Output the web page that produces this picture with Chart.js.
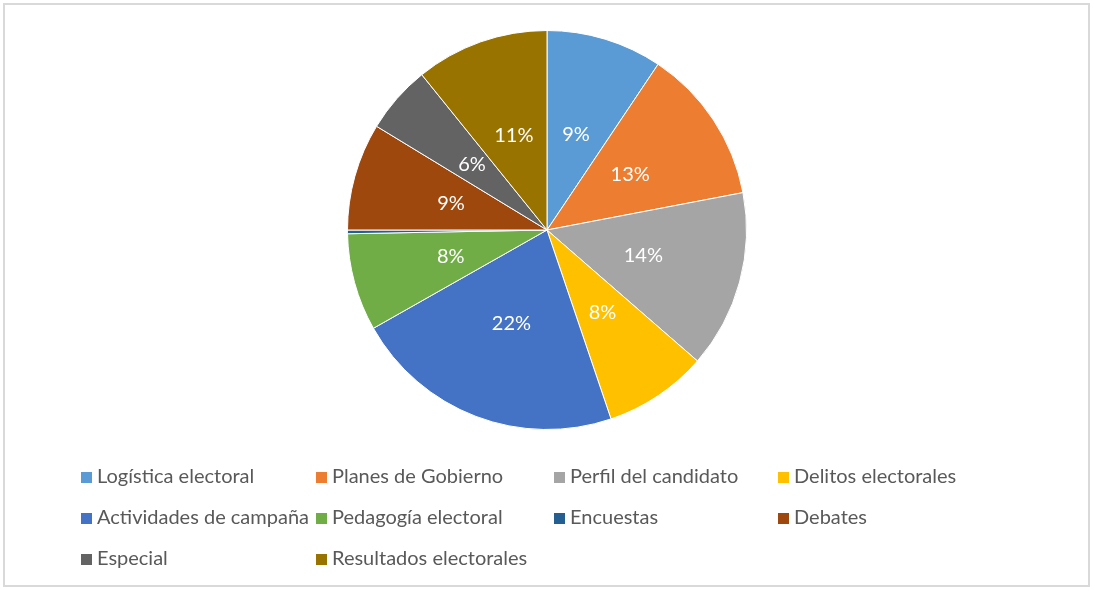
<!DOCTYPE html>
<html>
<head>
<meta charset="utf-8">
<script src="https://cdn.jsdelivr.net/npm/chart.js@4/dist/chart.umd.min.js"></script>
<style>
  html, body { margin: 0; padding: 0; background: #fff; }
  #frame {
    position: absolute; left: 3px; top: 3px; width: 1083px; height: 580px;
    border: 2px solid #d9d9d9; box-sizing: content-box;
  }
  #wrap { position: absolute; left: 0; top: 0; width: 1094px; height: 590px; }
  #legend {
    position: absolute; left: 81px; top: 462px; width: 1000px;
    font-family: "Lato", sans-serif; font-size: 20px; color: #595959;
  }
  .item { position: absolute; white-space: nowrap; line-height: 26px; }
  .box {
    display: inline-block; width: 11px; height: 11px; margin-right: 5px;
    vertical-align: 0px;
  }
</style>
</head>
<body>
<div id="frame"></div>
<div id="wrap"><canvas id="pie" width="1094" height="590"></canvas></div>
<div id="legend"></div>
<script>
// Categories and values (share of coverage, %)
const categories = [
  "Logística electoral",
  "Planes de Gobierno",
  "Perfil del candidato",
  "Delitos electorales",
  "Actividades de campaña",
  "Pedagogía electoral",
  "Encuestas",
  "Debates",
  "Especial",
  "Resultados electorales",
];
const shares = [9.4, 12.6, 14.4, 8.4, 22.0, 7.9, 0.3, 8.7, 5.5, 10.8];
const colors = [
  "#5B9BD5", "#ED7D31", "#A5A5A5", "#FFC000", "#4472C4",
  "#70AD47", "#255E91", "#9E480E", "#636363", "#997300",
];

// Legend grid: 4 columns
const legendCols = [0, 235, 473, 697];
const legendRowStep = 41;

// Draw percentage labels at the middle of each slice
const sliceLabels = {
  id: "sliceLabels",
  afterDatasetsDraw(chart) {
    const ctx = chart.ctx;
    const meta = chart.getDatasetMeta(0);
    const total = shares.reduce((a, b) => a + b, 0);
    ctx.save();
    ctx.font = '20px "Lato", sans-serif';
    ctx.fillStyle = "#ffffff";
    ctx.textAlign = "center";
    ctx.textBaseline = "middle";
    meta.data.forEach((arc, i) => {
      const pct = Math.round((shares[i] / total) * 100);
      if (pct < 1) return;
      const mid = (arc.startAngle + arc.endAngle) / 2;
      const r = arc.outerRadius * 0.5;
      ctx.fillText(pct + "%", arc.x + Math.cos(mid) * r, arc.y + Math.sin(mid) * r);
    });
    ctx.restore();
  },
};

const buildLegend = () => {
  const legend = document.getElementById("legend");
  categories.forEach((name, i) => {
    const item = document.createElement("div");
    item.className = "item";
    item.style.left = legendCols[i % 4] + "px";
    item.style.top = Math.floor(i / 4) * legendRowStep + "px";
    const box = document.createElement("span");
    box.className = "box";
    box.style.background = colors[i];
    item.appendChild(box);
    item.appendChild(document.createTextNode(name));
    legend.appendChild(item);
  });
};

document.addEventListener("DOMContentLoaded", () => {
  const ctx = document.getElementById("pie").getContext("2d");
  new Chart(ctx, {
    type: "pie",
    data: {
      labels: categories,
      datasets: [{
        data: shares,
        backgroundColor: colors,
        borderColor: "#ffffff",
        borderWidth: 1,
      }],
    },
    options: {
      responsive: false,
      animation: false,
      layout: { padding: { top: 30, bottom: 160, left: 0, right: 0 } },
      plugins: {
        legend: { display: false },
        tooltip: { enabled: false },
      },
    },
    plugins: [sliceLabels],
  });
  buildLegend();
});
</script>
</body>
</html>
